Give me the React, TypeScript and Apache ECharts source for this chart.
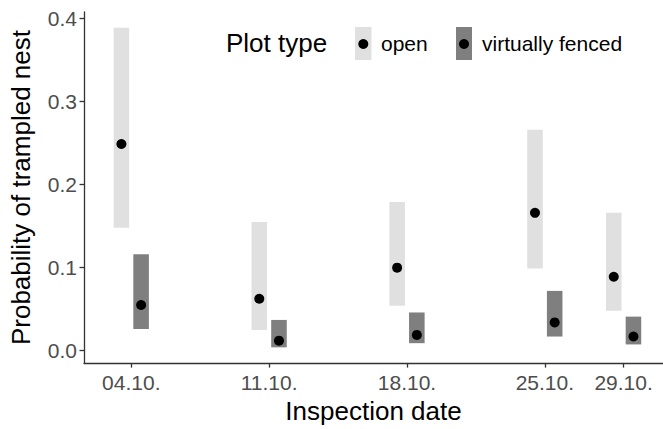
import React, { useEffect, useRef } from "react";
import * as echarts from "echarts";

// Inspection dates (days after 04.10.) and their labels
const tickDays = [0, 7, 14, 21, 25];
const tickLabels = ["04.10.", "11.10.", "18.10.", "25.10.", "29.10."];
const yTicks = [0, 0.1, 0.2, 0.3, 0.4];

// Plot type: open
const openEst = [0.249, 0.0625, 0.1, 0.166, 0.089];
const openLow = [0.148, 0.025, 0.054, 0.099, 0.048];
const openHigh = [0.389, 0.155, 0.179, 0.266, 0.166];

// Plot type: virtually fenced
const fencedEst = [0.055, 0.012, 0.019, 0.034, 0.017];
const fencedLow = [0.026, 0.004, 0.009, 0.017, 0.0075];
const fencedHigh = [0.116, 0.037, 0.046, 0.072, 0.041];

const DODGE = 0.5;
const BAR_W = 0.79;
const FONT = "'Liberation Sans', Arial, Helvetica, sans-serif";
const LIGHT = "#e0e0e0";
const DARK = "#7f7f7f";

export default function App() {
  const ref = useRef<HTMLDivElement>(null);

  useEffect(() => {
    if (!ref.current) return;
    document.body.style.margin = "0";
    const chart = echarts.init(ref.current, null, { renderer: "svg" });

    const rangeData = (lo: number[], hi: number[], off: number) =>
      tickDays.map((d, i) => [d + off, lo[i], hi[i]]);
    const pointData = (est: number[], off: number) =>
      tickDays.map((d, i) => [d + off, est[i]]);

    const renderRange = (color: string) => (params: any, api: any) => {
      const x = api.value(0);
      const lo = api.coord([x, api.value(1)]);
      const hi = api.coord([x, api.value(2)]);
      const w = api.size([BAR_W, 0])[0];
      return {
        type: "rect",
        shape: { x: lo[0] - w / 2, y: hi[1], width: w, height: lo[1] - hi[1] },
        style: { fill: color },
      };
    };

    chart.setOption({
      animation: false,
      backgroundColor: "#ffffff",
      grid: { left: 84, top: 12, right: 0, bottom: 61.4, containLabel: false },
      xAxis: {
        type: "value",
        min: -2.4,
        max: 27,
        name: "Inspection date",
        nameLocation: "middle",
        nameGap: 31,
        nameTextStyle: { fontFamily: FONT, fontSize: 26, color: "#000" },
        axisLine: { show: true, onZero: false, lineStyle: { color: "#333", width: 1.3 } },
        axisTick: {
          show: true,
          length: 4.5,
          customValues: tickDays,
          lineStyle: { color: "#333", width: 1.3 },
        },
        axisLabel: {
          customValues: tickDays,
          margin: 9,
          fontFamily: FONT,
          fontSize: 21,
          color: "#4d4d4d",
          formatter: (v: number) => {
            const i = tickDays.indexOf(Math.round(v));
            return i >= 0 ? tickLabels[i] : "";
          },
        },
        splitLine: { show: false },
      },
      yAxis: {
        type: "value",
        min: -0.015,
        max: 0.408,
        name: "Probability of trampled nest",
        nameLocation: "middle",
        nameGap: 50,
        nameTextStyle: { fontFamily: FONT, fontSize: 26, color: "#000" },
        axisLine: { show: true, onZero: false, lineStyle: { color: "#333", width: 1.3 } },
        axisTick: {
          show: true,
          length: 4.5,
          customValues: yTicks,
          lineStyle: { color: "#333", width: 1.3 },
        },
        axisLabel: {
          customValues: yTicks,
          margin: 7,
          fontFamily: FONT,
          fontSize: 21,
          color: "#4d4d4d",
          formatter: (v: number) => v.toFixed(1),
        },
        splitLine: { show: false },
      },
      series: [
        {
          type: "custom",
          name: "open range",
          renderItem: renderRange(LIGHT),
          encode: { x: 0, y: [1, 2] },
          data: rangeData(openLow, openHigh, -DODGE),
          z: 1,
        },
        {
          type: "custom",
          name: "fenced range",
          renderItem: renderRange(DARK),
          encode: { x: 0, y: [1, 2] },
          data: rangeData(fencedLow, fencedHigh, DODGE),
          z: 1,
        },
        {
          type: "scatter",
          name: "open",
          symbolSize: 10,
          itemStyle: { color: "#000", opacity: 1 },
          data: pointData(openEst, -DODGE),
          z: 3,
        },
        {
          type: "scatter",
          name: "virtually fenced",
          symbolSize: 10,
          itemStyle: { color: "#000", opacity: 1 },
          data: pointData(fencedEst, DODGE),
          z: 3,
        },
      ],
      graphic: [
        {
          type: "text",
          left: 226,
          top: 30,
          style: { text: "Plot type", fontFamily: FONT, fontSize: 26, fill: "#000" },
        },
        { type: "rect", shape: { x: 355, y: 27, width: 16.5, height: 33 }, style: { fill: LIGHT } },
        { type: "circle", shape: { cx: 363.3, cy: 44, r: 5 }, style: { fill: "#000" } },
        {
          type: "text",
          left: 381,
          top: 33,
          style: { text: "open", fontFamily: FONT, fontSize: 21, fill: "#000" },
        },
        { type: "rect", shape: { x: 456, y: 27, width: 16, height: 33 }, style: { fill: DARK } },
        { type: "circle", shape: { cx: 464, cy: 44, r: 5 }, style: { fill: "#000" } },
        {
          type: "text",
          left: 482,
          top: 33,
          style: { text: "virtually fenced", fontFamily: FONT, fontSize: 21, fill: "#000" },
        },
      ],
    });

    return () => chart.dispose();
  }, []);

  return <div ref={ref} style={{ width: 663, height: 429 }} />;
}
